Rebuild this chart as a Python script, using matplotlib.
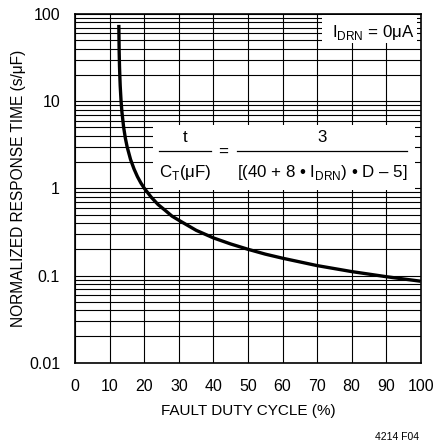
import matplotlib
matplotlib.use("Agg")
import matplotlib.pyplot as plt
from matplotlib.patches import Rectangle
from matplotlib.lines import Line2D

plt.rcParams['font.family'] = ['Liberation Sans', 'DejaVu Sans']
plt.rcParams['mathtext.fontset'] = 'custom'
plt.rcParams['mathtext.rm'] = 'Liberation Sans'

# curve (fault duty cycle %, response time s/uF)
duty = [12.6, 12.7, 12.8, 12.9, 13.0, 13.25, 13.5, 14, 14.5, 15, 16, 17, 18, 19, 20,
        22, 24, 26, 28, 30, 35, 40, 45, 50, 55, 60, 70, 80, 90, 100]
resp = [75, 37, 25, 19, 15, 10, 7.5, 5.0, 3.75, 3.0, 2.14, 1.67, 1.36, 1.15, 1.0,
        0.79, 0.65, 0.56, 0.48, 0.43, 0.33, 0.27, 0.23, 0.20, 0.176, 0.158, 0.13,
        0.111, 0.097, 0.086]

xticks = [0, 10, 20, 30, 40, 50, 60, 70, 80, 90, 100]
yticks = [0.01, 0.1, 1, 10, 100]
ylabels = ['0.01', '0.1', '1', '10', '100']

W, H = 434, 443
fig = plt.figure(figsize=(W / 100, H / 100), dpi=100)
L, R, T, B = 75.3, 420.7, 14, 362.7
ax = fig.add_axes([L / W, 1 - B / H, (R - L) / W, (B - T) / H])


def fp(px, py):
    return px / W, 1 - py / H


ax.plot(duty, resp, color='black', lw=2.4, zorder=3, solid_capstyle='butt')
ax.set_yscale('log')
ax.set_xlim(0, 100)
ax.set_ylim(0.01, 100)
ax.set_xticks(xticks)
ax.set_xticklabels([str(v) for v in xticks])
ax.set_yticks(yticks)
ax.set_yticklabels(ylabels)
ax.set_axisbelow(True)
ax.grid(True, which='both', color='black', lw=0.8)
ax.tick_params(which='both', length=0, labelsize=11.5)
ax.tick_params(axis='x', pad=12)
ax.tick_params(axis='y', pad=11)
for s in ax.spines.values():
    s.set_linewidth(1.2)

ax.set_xlabel('FAULT DUTY CYCLE (%)', fontsize=11, labelpad=7)
ax.set_ylabel('NORMALIZED RESPONSE TIME (s/μF)', fontsize=11.2, labelpad=2)

# white label boxes over the grid
for (x0, y0, x1, y1) in [(322, 15, 417, 43), (153, 125, 415, 190)]:
    ax.add_patch(Rectangle(fp(x0, y1), (x1 - x0) / W, (y1 - y0) / H,
                           transform=fig.transFigure, facecolor='white',
                           edgecolor='none', zorder=2))

fig.text(*fp(373, 32), r'I$_\mathregular{DRN}$ = 0μA', fontsize=12.2,
         ha='center', va='center')

fig.text(*fp(185, 137), 't', fontsize=12.2, ha='center', va='center')
fig.text(*fp(185, 172), r'C$_\mathregular{T}$(μF)', fontsize=12.2,
         ha='center', va='center')
fig.text(*fp(223, 152), '=', fontsize=12.2, ha='center', va='center')
fig.text(*fp(322, 137), '3', fontsize=12.2, ha='center', va='center')
fig.text(*fp(322, 172), r'[(40 + 8 • I$_\mathregular{DRN}$) • D – 5]',
         fontsize=12.2, ha='center', va='center')
for (x0, x1) in [(159, 211), (237, 407)]:
    fig.add_artist(Line2D([x0 / W, x1 / W], [1 - 151 / H, 1 - 151 / H],
                          color='black', lw=0.9, transform=fig.transFigure))

fig.text(*fp(397, 437), '4214 F04', fontsize=7.5, ha='center', va='center')

fig.savefig('out.png', dpi=100)
